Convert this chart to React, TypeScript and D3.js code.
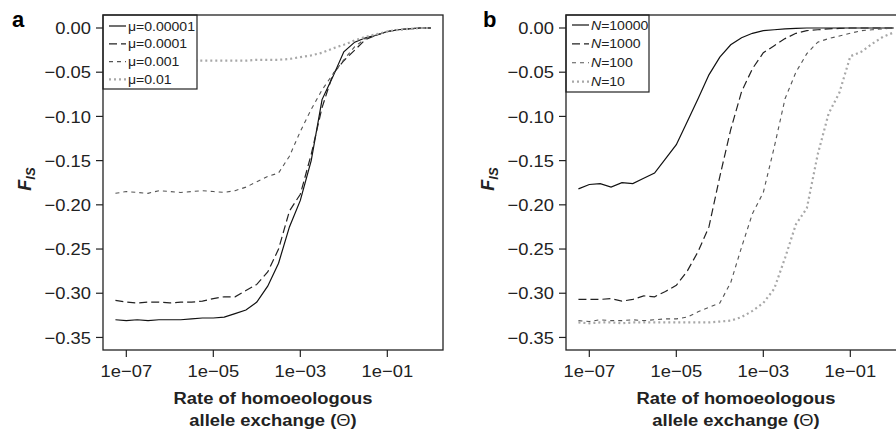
import React from 'react';
import * as d3 from 'd3';

const W = 896;
const H = 431;

// rate of homoeologous allele exchange (x values, quarter-decade steps)
const thetas = [
  5.62e-8, 1e-7, 1.78e-7, 3.16e-7, 5.62e-7, 1e-6, 1.78e-6, 3.16e-6, 5.62e-6, 1e-5,
  1.78e-5, 3.16e-5, 5.62e-5, 1e-4, 1.78e-4, 3.16e-4, 5.62e-4, 1e-3, 1.78e-3, 3.16e-3,
  5.62e-3, 1e-2, 1.78e-2, 3.16e-2, 5.62e-2, 0.1, 0.178, 0.316, 0.562, 1,
];

// panel a: different mutation rates
const muLabels = ['μ=0.00001', 'μ=0.0001', 'μ=0.001', 'μ=0.01'];
const fisMu00001 = [
  -0.330, -0.331, -0.330, -0.331, -0.330, -0.330, -0.330, -0.329, -0.328, -0.328,
  -0.327, -0.323, -0.319, -0.310, -0.292, -0.266, -0.225, -0.195, -0.150, -0.081,
  -0.055, -0.027, -0.016, -0.011, -0.008, -0.004, -0.002, -0.001, 0, 0,
];
const fisMu0001 = [
  -0.308, -0.310, -0.311, -0.310, -0.310, -0.311, -0.310, -0.310, -0.309, -0.306,
  -0.304, -0.304, -0.297, -0.290, -0.276, -0.250, -0.207, -0.188, -0.143, -0.090,
  -0.052, -0.037, -0.025, -0.013, -0.008, -0.004, -0.002, -0.001, 0, 0,
];
const fisMu001 = [
  -0.187, -0.185, -0.186, -0.187, -0.184, -0.185, -0.186, -0.185, -0.184, -0.185,
  -0.186, -0.184, -0.180, -0.174, -0.168, -0.164, -0.145, -0.117, -0.092, -0.070,
  -0.052, -0.036, -0.021, -0.012, -0.008, -0.004, -0.002, -0.001, 0, 0,
];
const fisMu01 = [
  -0.037, -0.037, -0.038, -0.037, -0.037, -0.038, -0.037, -0.037, -0.037, -0.037,
  -0.037, -0.037, -0.037, -0.036, -0.036, -0.036, -0.035, -0.033, -0.031, -0.028,
  -0.023, -0.019, -0.014, -0.010, -0.007, -0.004, -0.002, -0.001, 0, 0,
];

// panel b: different population sizes
const nLabels = ['10000', '1000', '100', '10'];
const fisN10000 = [
  -0.182, -0.177, -0.176, -0.180, -0.175, -0.176, -0.170, -0.164, -0.148, -0.132,
  -0.106, -0.080, -0.053, -0.033, -0.019, -0.011, -0.006, -0.003, -0.002, -0.001,
  -0.0005, 0, 0, 0, 0, 0, 0, 0, 0, 0,
];
const fisN1000 = [
  -0.307, -0.307, -0.307, -0.306, -0.309, -0.307, -0.303, -0.304, -0.298, -0.291,
  -0.275, -0.253, -0.225, -0.168, -0.115, -0.072, -0.046, -0.028, -0.020, -0.012,
  -0.006, -0.003, -0.002, -0.001, -0.0005, 0, 0, 0, 0, 0,
];
const fisN100 = [
  -0.331, -0.332, -0.330, -0.331, -0.331, -0.330, -0.331, -0.330, -0.329, -0.329,
  -0.327, -0.321, -0.316, -0.311, -0.288, -0.248, -0.210, -0.186, -0.135, -0.080,
  -0.050, -0.029, -0.016, -0.012, -0.009, -0.006, -0.003, -0.002, -0.001, 0,
];
const fisN10 = [
  -0.333, -0.334, -0.333, -0.333, -0.334, -0.333, -0.333, -0.333, -0.333, -0.333,
  -0.333, -0.333, -0.333, -0.332, -0.331, -0.327, -0.320, -0.311, -0.295, -0.260,
  -0.222, -0.204, -0.143, -0.097, -0.073, -0.032, -0.027, -0.018, -0.010, -0.005,
];

const yTicks = [0, -0.05, -0.1, -0.15, -0.2, -0.25, -0.3, -0.35];
const yTickLabels = ['0.00', '−0.05', '−0.10', '−0.15', '−0.20', '−0.25', '−0.30', '−0.35'];
const xTicks = [1e-7, 1e-5, 1e-3, 1e-1];
const xTickLabels = ['1e−07', '1e−05', '1e−03', '1e−01'];

const FONT = '"Liberation Sans", Arial, Helvetica, sans-serif';
const SX = 1.08; // text in the figure is a little wider than Arial

const lineStyles = [
  { stroke: '#111', width: 1.2, dash: undefined },
  { stroke: '#222', width: 1.2, dash: '8,4' },
  { stroke: '#555', width: 1.1, dash: '4,4' },
  { stroke: '#a8a8a8', width: 2.2, dash: '2,3' },
];

const plotTop = 15;
const plotBottom = 350;
const plotW = 340;

const y = d3.scaleLinear().domain([-0.3642, 0.0147]).range([plotBottom, plotTop]);

function Panel({ left, letter, letterX, series, labels, italicN, legendW, legendStart, legendStep, legendH }) {
  const x = d3.scaleLog().domain([Math.pow(10, -7.536), Math.pow(10, 0.28)]).range([left, left + plotW]);
  const line = d3.line<[number, number]>().x(d => x(d[0])).y(d => y(d[1]));
  const midX = left + plotW / 2;

  return (
    <g>
      <text x={letterX} y={27} fontFamily={FONT} fontWeight="bold" fontSize={22}>{letter}</text>

      {series.map((vals, k) => (
        <path
          key={k}
          d={line(thetas.map((t, i) => [t, vals[i]]))}
          fill="none"
          stroke={lineStyles[k].stroke}
          strokeWidth={lineStyles[k].width}
          strokeDasharray={lineStyles[k].dash}
        />
      ))}

      {/* legend */}
      <rect x={left} y={plotTop} width={legendW} height={legendH} fill="#fff" stroke="#222" strokeWidth={1.2} />
      {labels.map((lab, k) => {
        const ry = legendStart + k * legendStep;
        return (
          <g key={k}>
            <line x1={left + 6} x2={left + 23} y1={ry} y2={ry}
              stroke={lineStyles[k].stroke} strokeWidth={lineStyles[k].width}
              strokeDasharray={lineStyles[k].dash} />
            <text transform={`translate(${left + 25},${ry}) scale(${SX},1)`} dy="0.35em"
              fontFamily={FONT} fontSize={13} fill="#222">
              {italicN ? (<><tspan fontStyle="italic">N</tspan>{'=' + lab}</>) : lab}
            </text>
          </g>
        );
      })}

      {/* frame */}
      <rect x={left} y={plotTop} width={plotW} height={plotBottom - plotTop} fill="none" stroke="#222" strokeWidth={1.3} />

      {/* y axis */}
      {yTicks.map((t, i) => (
        <g key={i}>
          <line x1={left - 7} x2={left} y1={y(t)} y2={y(t)} stroke="#222" strokeWidth={1.2} />
          <text transform={`translate(${left - 12},${y(t)}) scale(${SX},1)`} dy="0.36em" textAnchor="end"
            fontFamily={FONT} fontSize={17} fill="#222">{yTickLabels[i]}</text>
        </g>
      ))}

      {/* x axis */}
      {xTicks.map((t, i) => (
        <g key={i}>
          <line x1={x(t)} x2={x(t)} y1={plotBottom} y2={plotBottom + 7} stroke="#222" strokeWidth={1.2} />
          <text transform={`translate(${x(t)},${376.5}) scale(${SX},1)`} textAnchor="middle"
            fontFamily={FONT} fontSize={17} fill="#222">{xTickLabels[i]}</text>
        </g>
      ))}

      <text transform={`translate(${midX},404) scale(${SX},1)`} textAnchor="middle"
        fontFamily={FONT} fontSize={17} fontWeight="bold" fill="#222">Rate of homoeologous</text>
      <text transform={`translate(${midX},425.5) scale(${SX},1)`} textAnchor="middle"
        fontFamily={FONT} fontSize={17} fontWeight="bold" fill="#222">
        allele exchange (<tspan fontWeight="normal">Θ</tspan>)
      </text>

      <text transform={`translate(${left - 72},179) rotate(-90)`} textAnchor="middle"
        fontFamily={FONT} fontWeight="bold" fontStyle="italic" fill="#222">
        <tspan fontSize={18}>F</tspan>
        <tspan fontSize={13} dy={4}>IS</tspan>
      </text>
    </g>
  );
}

export default function App() {
  return (
    <div style={{ position: 'absolute', left: 0, top: 0 }}>
      <svg width={W} height={H} style={{ display: 'block', background: '#fff' }}>
        <Panel
          left={103}
          letter="a"
          letterX={12}
          series={[fisMu00001, fisMu0001, fisMu001, fisMu01]}
          labels={muLabels}
          italicN={false}
          legendW={94}
          legendStart={26}
          legendStep={17.8}
          legendH={74}
        />
        <Panel
          left={566}
          letter="b"
          letterX={483}
          series={[fisN10000, fisN1000, fisN100, fisN10]}
          labels={nLabels}
          italicN={true}
          legendW={83}
          legendStart={25}
          legendStep={18.9}
          legendH={77}
        />
      </svg>
    </div>
  );
}
